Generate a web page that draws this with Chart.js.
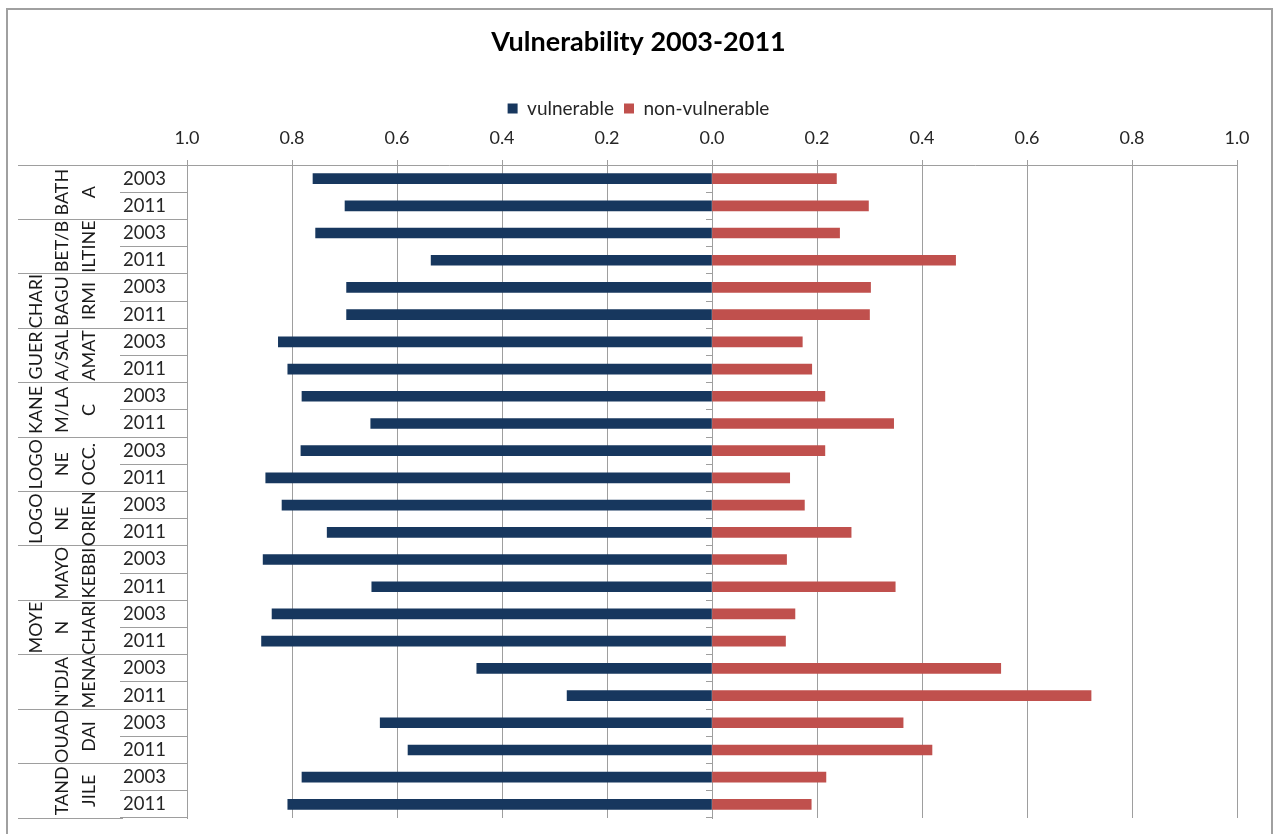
<!DOCTYPE html>
<html>
<head>
<meta charset="utf-8">
<title>Vulnerability 2003-2011</title>
<script src="https://cdn.jsdelivr.net/npm/chart.js@4/dist/chart.umd.min.js"></script>
<style>
  html, body { margin: 0; padding: 0; background: #ffffff; }
  canvas { display: block; }
</style>
</head>
<body>
<canvas id="chart" width="1277" height="834"></canvas>
<script>
// Regions (wrapped the way they are printed in the label column)
const regions = [
  ["BATH", "A"],
  ["BET/B", "ILTINE"],
  ["CHARI", "BAGU", "IRMI"],
  ["GUER", "A/SAL", "AMAT"],
  ["KANE", "M/LA", "C"],
  ["LOGO", "NE", "OCC."],
  ["LOGO", "NE", "ORIEN"],
  ["MAYO", "KEBBI"],
  ["MOYE", "N", "CHARI"],
  ["N'DJA", "MENA"],
  ["OUAD", "DAI"],
  ["TAND", "JILE"]
];

// Survey years shown for every region
const surveyYears = ["2003", "2011"];

// One row per region and year
const rowLabels = regions.flatMap(() => surveyYears);

// Share of households, one value per row (region order, 2003 then 2011)
const vulnerable = [
  0.760, 0.699, 0.755, 0.535, 0.696, 0.696,
  0.826, 0.808, 0.781, 0.650, 0.783, 0.850,
  0.819, 0.733, 0.855, 0.648, 0.838, 0.858,
  0.448, 0.276, 0.632, 0.579, 0.781, 0.808
];
const nonVulnerable = [
  0.237, 0.298, 0.243, 0.464, 0.302, 0.300,
  0.172, 0.190, 0.215, 0.346, 0.215, 0.148,
  0.176, 0.265, 0.142, 0.349, 0.158, 0.140,
  0.550, 0.722, 0.364, 0.419, 0.217, 0.189
];

const FONT = "Lato";
const TEXT = "#262626";
const LINE = "#9e9e9e";

// White page with the grey frame around the chart
const framePlugin = {
  id: "frame",
  beforeDraw(chart) {
    const ctx = chart.ctx;
    ctx.save();
    ctx.fillStyle = "#ffffff";
    ctx.fillRect(0, 0, chart.width, chart.height);
    ctx.strokeStyle = "#a0a0a0";
    ctx.lineWidth = 2;
    ctx.strokeRect(7, 9, 1265, 900);
    ctx.restore();
  }
};

// Vertical (rotated) region names, one band per region on the outer category axis
const regionLabelPlugin = {
  id: "regionLabels",
  afterDraw(chart) {
    const outer = chart.scales.yRegion;
    const inner = chart.scales.y;
    const labels = outer.getLabels();
    const ctx = chart.ctx;
    ctx.save();
    ctx.font = "18px " + FONT;
    ctx.fillStyle = "#1a1a1a";
    ctx.textAlign = "center";
    ctx.textBaseline = "middle";
    const lastX = inner.left - 35;
    const gap = 26.5;
    outer.ticks.forEach((tick, i) => {
      const lines = labels[i];
      const cy = outer.getPixelForTick(i);
      lines.forEach((line, j) => {
        const x = lastX - (lines.length - 1 - j) * gap;
        ctx.save();
        ctx.translate(x, cy);
        ctx.rotate(-Math.PI / 2);
        ctx.fillText(line, 0, 1);
        ctx.restore();
      });
    });
    ctx.restore();
  }
};

new Chart(document.getElementById("chart"), {
  type: "bar",
  data: {
    labels: rowLabels,
    datasets: [
      {
        label: "vulnerable",
        data: vulnerable.map(v => -v),
        backgroundColor: "#17375E",
        barThickness: 10,
        xAxisID: "x",
        yAxisID: "y"
      },
      {
        label: "non-vulnerable",
        data: nonVulnerable,
        backgroundColor: "#C0504D",
        barThickness: 10,
        xAxisID: "x",
        yAxisID: "y"
      }
    ]
  },
  options: {
    indexAxis: "y",
    responsive: false,
    animation: false,
    layout: { padding: { left: 40, right: 40, top: 0, bottom: 16 } },
    plugins: {
      title: {
        display: true,
        text: "Vulnerability 2003-2011",
        color: "#000000",
        font: { family: FONT, size: 27, weight: "bold" },
        padding: { top: 26, bottom: 30.6 }
      },
      legend: {
        display: true,
        position: "top",
        labels: {
          boxWidth: 10,
          boxHeight: 10,
          padding: 10,
          color: TEXT,
          font: { family: FONT, size: 19 }
        }
      },
      tooltip: { enabled: false }
    },
    scales: {
      x: {
        type: "linear",
        position: "top",
        min: -1,
        max: 1,
        stacked: true,
        ticks: {
          stepSize: 0.2,
          padding: 11,
          color: TEXT,
          font: { family: FONT, size: 18 },
          callback: v => Math.abs(v).toFixed(1)
        },
        grid: { color: LINE, lineWidth: 1, tickLength: 5 },
        border: { color: LINE },
        afterFit: s => { s.height = 37; }
      },
      y: {
        type: "category",
        position: "left",
        weight: 0,
        stacked: true,
        offset: true,
        ticks: {
          crossAlign: "far",
          color: TEXT,
          font: { family: FONT, size: 18.5 }
        },
        grid: { offset: true, drawOnChartArea: false, tickLength: 67, color: LINE },
        border: { display: true, color: LINE },
        afterFit: s => { s.width = 64; }
      },
      yRegion: {
        axis: "y",
        type: "category",
        position: "left",
        weight: 1,
        offset: true,
        labels: regions,
        ticks: { display: false },
        grid: { offset: true, drawOnChartArea: false, tickLength: 105, color: LINE },
        border: { display: false },
        afterFit: s => { s.width = 83; }
      },
      yZero: {
        axis: "y",
        type: "category",
        position: { x: 0 },
        offset: true,
        labels: rowLabels,
        ticks: { display: false },
        grid: { offset: true, drawOnChartArea: false, tickLength: 6, color: LINE },
        border: { display: true, color: LINE }
      }
    }
  },
  plugins: [framePlugin, regionLabelPlugin]
});
</script>
</body>
</html>
